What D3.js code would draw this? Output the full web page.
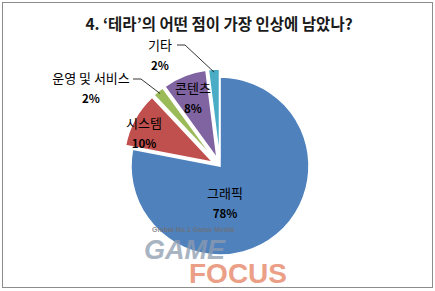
<!DOCTYPE html>
<html><head><meta charset="utf-8">
<script src="https://cdn.jsdelivr.net/npm/d3@7"></script>
<style>body{margin:0;background:#fff}svg{display:block}</style>
</head><body>
<svg id="c" width="435" height="291"></svg>
<script>
const title = "4. ‘테라’의 어떤 점이 가장 인상에 남았나?";
const categories = ["그래픽", "시스템", "운영 및 서비스", "콘텐츠", "기타"];
const values = [78, 10, 2, 8, 2];
const colors = ["#4F81BD", "#C0504D", "#9BBB59", "#8064A2", "#4BACC6"];
const explode = [0, 8, 8, 8, 8];

const svg = d3.select("#c");
const W = 435, H = 291;
svg.append("rect").attr("x", 2.5).attr("y", 2.5).attr("width", W - 5).attr("height", H - 6)
  .attr("fill", "#fff").attr("stroke", "#8c8c8c").attr("stroke-width", 1);

svg.append("text").attr("x", 219).attr("y", 30).attr("text-anchor", "middle")
  .attr("font-family", "'Noto Sans CJK KR', sans-serif").attr("font-weight", "bold")
  .attr("font-size", 15.5).attr("fill", "#1a1a1a").text(title);

const cx = 220, cy = 166, R = 89;
const data = categories.map((c, i) => ({ cat: c, value: values[i], color: colors[i], ex: explode[i] }));
const pie = d3.pie().value(d => d.value).sort(null);
const arcs = pie(data);
const arc = d3.arc().innerRadius(0).outerRadius(R);
const g = svg.append("g").attr("transform", `translate(${cx},${cy})`);

function off(a, d) {
  const m = (a.startAngle + a.endAngle) / 2;
  return [Math.sin(m) * d, -Math.cos(m) * d];
}

g.selectAll("path").data(arcs).enter().append("path")
  .attr("d", arc)
  .attr("transform", d => { const o = off(d, d.data.ex); return `translate(${o[0]},${o[1]})`; })
  .attr("fill", d => d.data.color)
  .attr("stroke", "#fff").attr("stroke-width", 1.5);

// watermark
const wm = svg.append("g").attr("font-family", "'Liberation Sans', Arial, sans-serif").attr("opacity", 0.75);
wm.append("text").attr("x", 152).attr("y", 232).attr("font-size", 7).attr("font-weight", "bold")
  .attr("fill", "#6f6f6f").text("Global No.1 Game Media");
wm.append("text").attr("x", 144).attr("y", 259).attr("font-size", 27).attr("font-weight", "bold")
  .attr("font-style", "italic").attr("fill", "#8d9cb0").text("GAME");
wm.append("text").attr("x", 189).attr("y", 283).attr("font-size", 28).attr("font-weight", "bold")
  .attr("fill", "#e58060").text("FOCUS");

const font = "'Noto Sans CJK KR', sans-serif";
function label(x, y, name, pct) {
  svg.append("text").attr("x", x).attr("y", y).attr("text-anchor", "middle")
    .attr("font-family", font).attr("font-size", 13).attr("fill", "#000").text(name);
  svg.append("text").attr("x", x).attr("y", y + 20).attr("text-anchor", "middle")
    .attr("font-family", font).attr("font-size", 11.5).attr("font-weight", "bold").attr("fill", "#000").text(pct);
}
const inside = { 0: [225, 198], 1: [144, 128], 3: [193, 93] };
const outside = { 2: [91, 83], 4: [160, 50] };
arcs.forEach((a, i) => {
  const pct = a.data.value + "%";
  if (inside[i]) label(inside[i][0], inside[i][1], a.data.cat, pct);
  else label(outside[i][0], outside[i][1], a.data.cat, pct);
});

function leader(i, sx, sy, kx) {
  const a = arcs[i];
  const m = (a.startAngle + a.endAngle) / 2;
  const o = off(a, a.data.ex);
  const ex = cx + o[0] + Math.sin(m) * (R - 3), ey = cy + o[1] - Math.cos(m) * (R - 3);
  svg.append("path").attr("d", `M${sx},${sy}L${kx},${sy}L${ex},${ey}`)
    .attr("fill", "none").attr("stroke", "#000").attr("stroke-width", 0.8);
}
leader(4, 177, 45, 185);
leader(2, 133, 79, 141);
</script>
</body></html>
